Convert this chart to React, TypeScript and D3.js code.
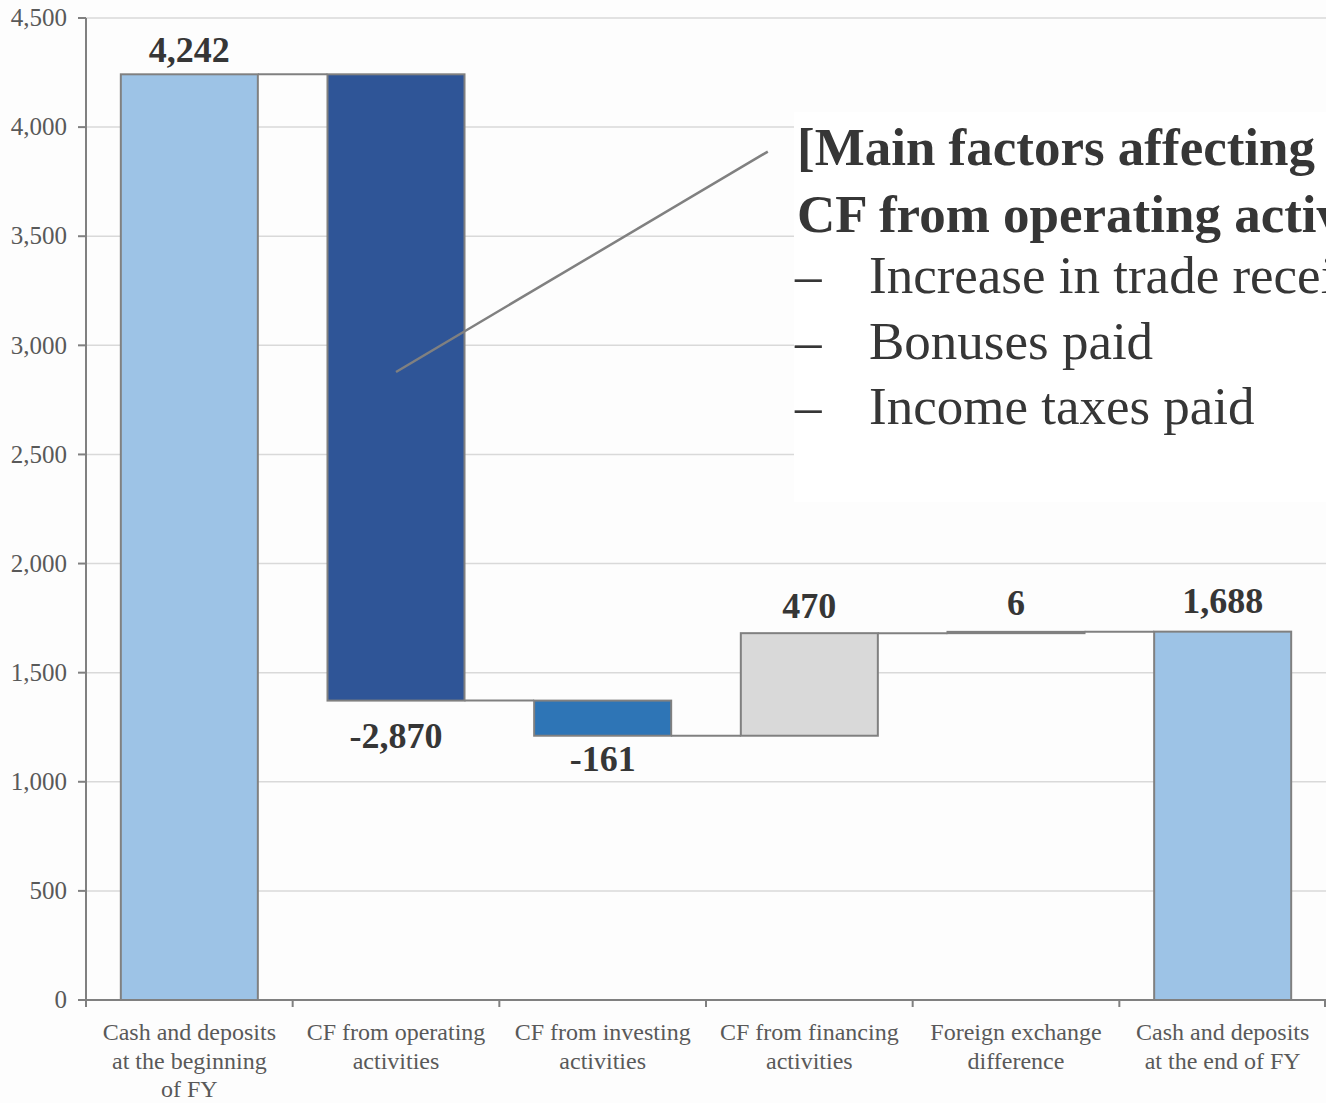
import React from "react";
import { scaleBand, scaleLinear, format } from "d3";

// categories and their waterfall values
const categories = [
    ["Cash and deposits", "at the beginning", "of FY"],
    ["CF from operating", "activities"],
    ["CF from investing", "activities"],
    ["CF from financing", "activities"],
    ["Foreign exchange", "difference"],
    ["Cash and deposits", "at the end of FY"]
];
const values = [4242, -2870, -161, 470, 6, 1688];
const kinds = ["total", "delta", "delta", "delta", "delta", "total"];
const barColors = ["#9dc3e6", "#2f5597", "#2e75b6", "#d9d9d9", "#d9d9d9", "#9dc3e6"];
const yTicks = [0, 500, 1000, 1500, 2000, 2500, 3000, 3500, 4000, 4500];

const noteTitle = ["[Main factors affecting", "CF from operating activities]"];
const noteItems = ["Increase in trade receivables", "Bonuses paid", "Income taxes paid"];

const W = 1326;
const H = 1103;
const margin = {top: 18, right: 0, bottom: 103, left: 86};

const App = () => {
    const innerRight = W - margin.right;
    const innerBottom = H - margin.bottom;

    const x = scaleBand()
        .domain(categories.map((d, i) => String(i)))
        .range([margin.left, innerRight])
        .paddingInner(0.337)
        .paddingOuter(0.1685);
    const step = x.step();

    const y = scaleLinear().domain([0, 4500]).range([innerBottom, margin.top]);

    // build waterfall segments
    let running = 0;
    const bars = values.map((v, i) => {
        let lo, hi;
        if (kinds[i] === "total") {
            lo = 0;
            hi = v;
            running = v;
        } else {
            const start = running;
            running = running + v;
            lo = Math.min(start, running);
            hi = Math.max(start, running);
        }
        return {i, v, lo, hi, end: kinds[i] === "total" ? v : running};
    });

    const fmt = (v) => format(",")(v).replace("\u2212", "-");
    const labelDy = [-12, 47, 35, -15, -17, -19];

    return (
        <div style={{position: "absolute", left: 0, top: 0}}>
            <svg width={W} height={H} style={{display: "block", background: "#fdfdfd"}}
                 fontFamily="'Liberation Serif', 'Times New Roman', serif">
                {/* grid */}
                {yTicks.filter(t => t > 0).map(t => (
                    <line key={t} x1={margin.left} x2={innerRight} y1={y(t)} y2={y(t)}
                          stroke="#d9d9d9" strokeWidth={1.5}/>
                ))}

                {/* connectors */}
                {bars.slice(0, -1).map((b, k) => {
                    const next = bars[k + 1];
                    const level = b.end;
                    return (
                        <line key={"c" + k}
                              x1={x(String(b.i)) + x.bandwidth()} x2={x(String(next.i))}
                              y1={y(level)} y2={y(level)}
                              stroke="#808080" strokeWidth={2}/>
                    );
                })}

                {/* bars */}
                {bars.map(b => (
                    <rect key={b.i} x={x(String(b.i))} y={y(b.hi)}
                          width={x.bandwidth()} height={Math.max(1, y(b.lo) - y(b.hi))}
                          fill={barColors[b.i]} stroke="#808080" strokeWidth={2}/>
                ))}

                {/* value labels */}
                {bars.map(b => (
                    <text key={"l" + b.i} x={x(String(b.i)) + x.bandwidth() / 2}
                          y={(b.v < 0 ? y(b.lo) : y(b.hi)) + labelDy[b.i]}
                          textAnchor="middle" fontSize={36} fontWeight="bold" fill="#363636">
                        {fmt(b.v)}
                    </text>
                ))}

                {/* callout box */}
                <rect x={794} y={112} width={W - 794} height={390} fill="#ffffff"/>
                <line x1={x("1") + x.bandwidth() / 2} y1={y(2878)}
                      x2={x("3") + 27} y2={y(3888)}
                      stroke="#808080" strokeWidth={2.5}/>
                {noteTitle.map((t, k) => (
                    <text key={"t" + k} x={797} y={165 + k * 67} fontSize={53}
                          fontWeight="bold" fill="#363636">{t}</text>
                ))}
                {noteItems.map((t, k) => (
                    <g key={"n" + k}>
                        <text x={795} y={293 + k * 65.5} fontSize={53} fill="#363636">–</text>
                        <text x={869} y={293 + k * 65.5} fontSize={53} fill="#363636">{t}</text>
                    </g>
                ))}

                {/* y axis */}
                <line x1={margin.left} x2={margin.left} y1={margin.top} y2={innerBottom}
                      stroke="#808080" strokeWidth={2}/>
                {yTicks.map(t => (
                    <g key={"y" + t}>
                        <line x1={margin.left - 8} x2={margin.left} y1={y(t)} y2={y(t)}
                              stroke="#808080" strokeWidth={2}/>
                        <text x={67} y={y(t)} dy="0.33em" textAnchor="end" fontSize={25}
                              fill="#595959">{fmt(t)}</text>
                    </g>
                ))}

                {/* x axis */}
                <line x1={margin.left} x2={innerRight} y1={innerBottom} y2={innerBottom}
                      stroke="#808080" strokeWidth={2}/>
                {categories.map((c, i) => (
                    <g key={"x" + i}>
                        <line x1={margin.left + i * step} x2={margin.left + i * step}
                              y1={innerBottom} y2={innerBottom + 7}
                              stroke="#808080" strokeWidth={2}/>
                        {c.map((line, k) => (
                            <text key={k} x={x(String(i)) + x.bandwidth() / 2}
                                  y={1040 + k * 28.5} textAnchor="middle" fontSize={24}
                                  fill="#595959">{line}</text>
                        ))}
                    </g>
                ))}
                <line x1={innerRight - 1} x2={innerRight - 1} y1={innerBottom} y2={innerBottom + 7}
                      stroke="#808080" strokeWidth={2}/>
            </svg>
        </div>
    );
};

export default App;
